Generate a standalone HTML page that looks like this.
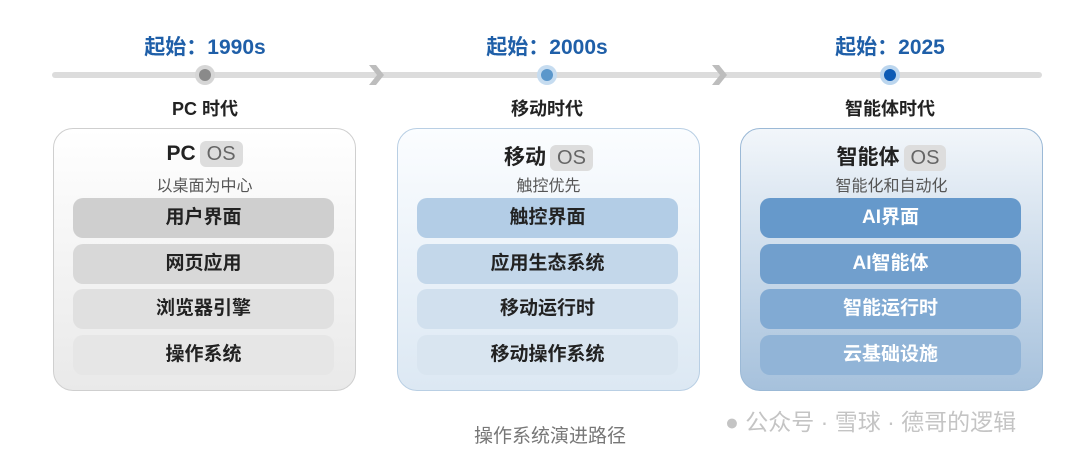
<!DOCTYPE html>
<html><head><meta charset="utf-8"><style>
*{margin:0;padding:0;box-sizing:border-box}
body{width:1080px;height:461px;background:#fff;position:relative;overflow:hidden;font-family:"Liberation Sans","Noto Sans CJK SC",sans-serif}
.a{position:absolute}
.t{position:absolute;text-align:center;white-space:nowrap}
.yr{font-size:21px;color:#1f5fa8;font-weight:bold;top:31px;width:200px}
.era{font-size:18px;color:#222;top:95px;width:200px;font-weight:bold}
.box{position:absolute;top:128px;width:303px;height:263px;border-radius:20px}
.hd{position:absolute;left:0;width:100%;text-align:center;font-size:21px;font-weight:bold;color:#222}
.os{display:inline-block;background:#ddd;color:#666;font-weight:normal;border-radius:6px;padding:0 7px;margin-left:4px;font-size:20px;line-height:26px}
.sub{position:absolute;left:0;width:100%;text-align:center;font-size:16px;color:#555}
.it{position:absolute;left:19px;width:261px;height:40px;border-radius:10px;text-align:center;line-height:40px;font-size:19px;color:#222;font-weight:bold}
</style></head><body>
<div class="a" style="left:52px;top:72px;width:990px;height:6px;background:#dcdcdc;border-radius:3px"></div>
<svg class="a" style="left:360px;top:62px" width="30" height="26"><path d="M9 3 L17 13 L9 23 L16 23 L24 13 L16 3Z" fill="#bdbdbd"/></svg>
<svg class="a" style="left:703px;top:62px" width="30" height="26"><path d="M9 3 L17 13 L9 23 L16 23 L24 13 L16 3Z" fill="#bdbdbd"/></svg>
<div class="a" style="left:195px;top:65px;width:20px;height:20px;border-radius:50%;background:#d6d6d6"></div>
<div class="a" style="left:199px;top:69px;width:12px;height:12px;border-radius:50%;background:#8a8a8a"></div>
<div class="a" style="left:537px;top:65px;width:20px;height:20px;border-radius:50%;background:#c6dcf0"></div>
<div class="a" style="left:541px;top:69px;width:12px;height:12px;border-radius:50%;background:#5b97cb"></div>
<div class="a" style="left:880px;top:65px;width:20px;height:20px;border-radius:50%;background:#bcd6ee"></div>
<div class="a" style="left:884px;top:69px;width:12px;height:12px;border-radius:50%;background:#0d5bb5"></div>

<div class="t yr" style="left:105px">起始：1990s</div>
<div class="t yr" style="left:447px">起始：2000s</div>
<div class="t yr" style="left:790px">起始：2025</div>
<div class="t era" style="left:105px">PC 时代</div>
<div class="t era" style="left:447px">移动时代</div>
<div class="t era" style="left:790px">智能体时代</div>

<div class="box" style="left:53px;border:1px solid #cfcfcf;background:linear-gradient(#fff,#e9e9e9)">
<div class="hd" style="top:12px">PC<span class="os">OS</span></div>
<div class="sub" style="top:43px">以桌面为中心</div>
<div class="it" style="top:69px;background:#cfcfcf">用户界面</div>
<div class="it" style="top:115px;background:#d8d8d8">网页应用</div>
<div class="it" style="top:160px;background:#e0e0e0">浏览器引擎</div>
<div class="it" style="top:206px;background:#e6e6e6">操作系统</div>
</div>

<div class="box" style="left:397px;border:1px solid #b9cfe4;background:linear-gradient(#fbfdff,#dce8f3)">
<div class="hd" style="top:12px">移动<span class="os">OS</span></div>
<div class="sub" style="top:43px">触控优先</div>
<div class="it" style="top:69px;background:#b3cde6">触控界面</div>
<div class="it" style="top:115px;background:#c3d7ea">应用生态系统</div>
<div class="it" style="top:160px;background:#d1e0ee">移动运行时</div>
<div class="it" style="top:206px;background:#d9e5f0">移动操作系统</div>
</div>

<div class="box" style="left:740px;border:1px solid #9bb9d6;background:linear-gradient(#f2f6fa,#a6c1dc)">
<div class="hd" style="top:12px">智能体<span class="os">OS</span></div>
<div class="sub" style="top:43px">智能化和自动化</div>
<div class="it" style="top:69px;background:#6699cb;color:#fff">AI界面</div>
<div class="it" style="top:115px;background:#719fcd;color:#fff">AI智能体</div>
<div class="it" style="top:160px;background:#81aad3;color:#fff">智能运行时</div>
<div class="it" style="top:206px;background:#91b4d7;color:#fff">云基础设施</div>
</div>

<div class="t" style="left:440px;top:421px;width:220px;font-size:19px;color:#777">操作系统演进路径</div>
<div class="t" style="left:725px;top:403px;font-size:23px;color:#c4c4c4">● 公众号 · 雪球 · 德哥的逻辑</div>
</body></html>
